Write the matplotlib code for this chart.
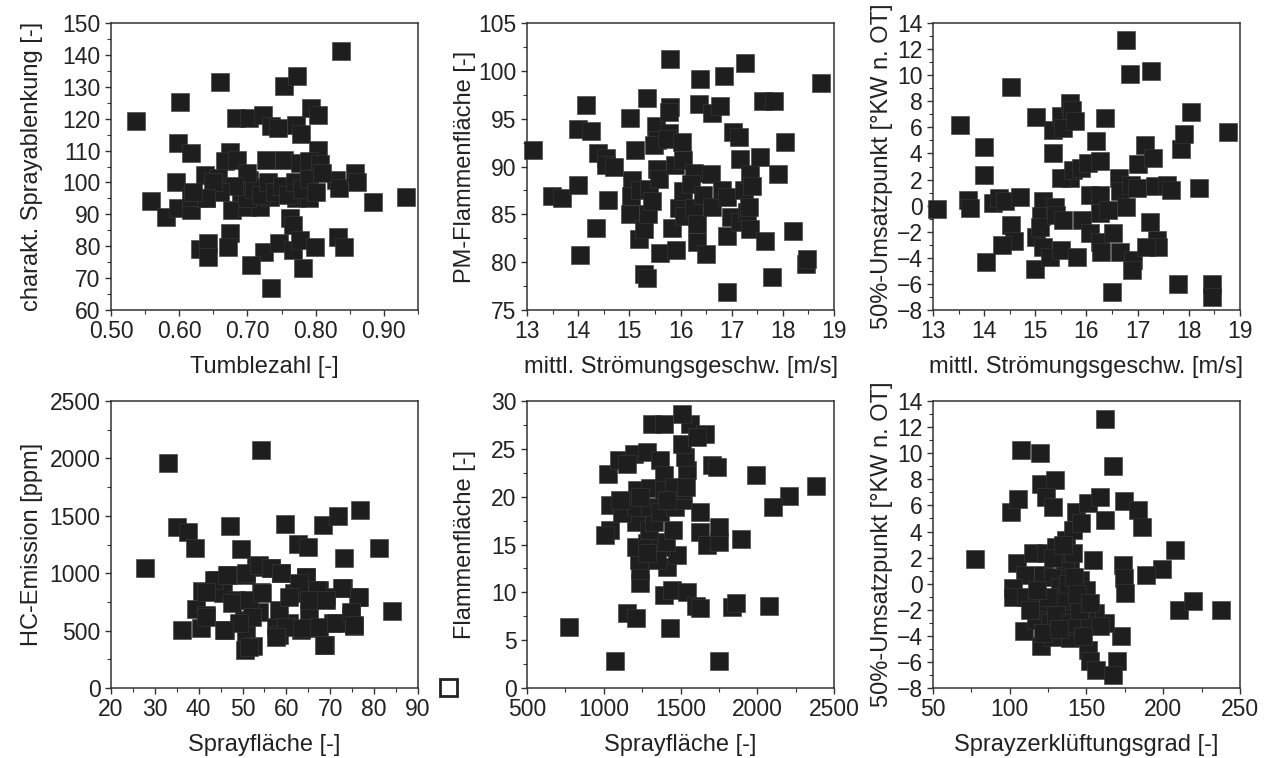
import matplotlib.pyplot as plt
from matplotlib.patches import Rectangle
from matplotlib.ticker import MultipleLocator, FormatStrFormatter

plt.rcParams['font.family'] = ['Liberation Sans', 'DejaVu Sans']

# --- panel 1: Tumblezahl vs charakt. Sprayablenkung
tumble = [0.537, 0.601, 0.660, 0.753, 0.772, 0.837, 0.599, 0.618, 0.684, 0.703,
          0.723, 0.734, 0.745, 0.771, 0.778, 0.793, 0.803, 0.803, 0.674, 0.667,
          0.685, 0.728, 0.753, 0.777, 0.791, 0.806, 0.638, 0.596, 0.657, 0.703,
          0.723, 0.742, 0.830, 0.835, 0.857, 0.860, 0.559, 0.581, 0.599, 0.618,
          0.618, 0.640, 0.677, 0.699, 0.718, 0.733, 0.771, 0.791, 0.884, 0.933,
          0.762, 0.767, 0.674, 0.631, 0.642, 0.642, 0.671, 0.725, 0.747, 0.767,
          0.777, 0.799, 0.833, 0.841, 0.706, 0.781, 0.734,
          0.69, 0.70, 0.71, 0.72, 0.73, 0.74, 0.75, 0.76, 0.77, 0.78, 0.79, 0.80,
          0.81, 0.70, 0.68, 0.66, 0.65, 0.64, 0.62]
spray_ablenk = [119.3, 125.2, 131.4, 130.3, 133.3, 141.3, 112.3, 109.2, 120.2, 120.2,
                121.2, 117.6, 117.2, 118.1, 115.2, 123.3, 121.2, 110.2, 109.7, 106.6,
                107.1, 107.1, 107.1, 106.0, 106.6, 105.7, 102.4, 100.3, 101.3, 100.8,
                98.7, 98.7, 100.8, 98.2, 102.9, 100.3, 94.2, 89.3, 92.1, 91.4,
                95.6, 95.1, 91.4, 92.4, 92.4, 95.6, 95.1, 95.1, 94.0, 95.3,
                88.8, 86.7, 84.1, 79.1, 80.9, 76.7, 79.9, 78.1, 80.9, 78.8,
                82.0, 79.9, 83.0, 79.9, 74.1, 73.1, 67.0,
                97, 95, 98, 96, 100, 97, 99, 96, 100, 98, 101, 97,
                103, 103, 99, 97, 100, 95, 97]

# --- panel 2: mittl. Stroemungsgeschw. vs PM-Flammenflaeche
v_pm = [13.11, 13.49, 13.68, 13.99, 13.99, 14.16, 14.25, 14.04, 14.34, 14.39,
        14.55, 14.55, 14.70, 14.59, 15.02, 15.01, 15.05, 15.04, 15.12, 15.20,
        15.19, 15.28, 15.28, 15.35, 15.34, 15.37, 15.38, 15.45, 15.52, 15.54,
        15.49, 15.54, 15.57, 15.59, 15.79, 15.79, 15.77, 15.77, 15.74, 15.89,
        15.92, 15.84, 15.97, 16.03, 16.05, 16.05, 16.07, 16.26, 16.20, 16.26,
        16.33, 16.33, 16.38, 16.37, 16.44, 16.49, 16.60, 16.61, 16.61, 16.77,
        16.85, 16.82, 16.91, 16.90, 16.90, 16.98, 17.02, 17.15, 17.16, 17.16,
        17.24, 17.27, 17.30, 17.34, 17.36, 17.40, 17.36, 17.55, 17.61, 17.66,
        17.83, 17.79, 17.90, 18.04, 18.19, 18.45, 18.47, 18.75]
pm_flamme = [91.7, 86.9, 86.7, 88.1, 93.9, 96.4, 93.7, 80.7, 83.6, 91.4,
             90.9, 90.2, 90.0, 86.5, 95.1, 85.0, 88.6, 86.9, 91.7, 87.5,
             82.4, 83.5, 78.8, 78.3, 97.2, 85.0, 87.7, 86.4, 94.2, 92.8,
             92.2, 89.7, 88.7, 81.0, 101.2, 96.2, 95.7, 93.5, 92.9, 90.2,
             81.3, 83.6, 85.7, 92.6, 90.7, 87.4, 84.8, 89.3, 88.2, 85.7,
             84.0, 82.1, 99.2, 96.5, 87.0, 80.9, 89.2, 95.6, 85.8, 96.3,
             99.5, 87.5, 86.8, 82.7, 76.9, 84.7, 93.6, 93.1, 90.8, 84.2,
             87.5, 100.8, 85.2, 85.8, 89.2, 88.0, 83.5, 91.0, 96.9, 82.2,
             96.8, 78.4, 89.2, 92.6, 83.3, 79.8, 80.3, 98.7]

# --- panel 3: mittl. Stroemungsgeschw. vs 50%-Umsatzpunkt
v_mfb = [13.08, 13.52, 13.68, 13.72, 14.00, 14.00, 14.03, 14.17, 14.29, 14.40,
         14.52, 14.53, 14.59, 14.34, 14.70, 15.01, 14.99, 15.15, 15.12, 15.02,
         15.09, 15.15, 15.28, 15.35, 15.35, 15.38, 15.41, 15.51, 15.54, 15.54,
         15.51, 15.67, 15.71, 15.77, 15.67, 15.51, 15.81, 15.74, 15.90, 16.03,
         16.26, 16.19, 16.07, 16.26, 15.92, 16.07, 16.26, 16.29, 16.26, 16.43,
         16.36, 16.49, 16.52, 16.65, 16.63, 16.65, 16.78, 16.78, 16.86, 16.88,
         16.99, 16.91, 16.90, 17.00, 17.15, 17.24, 17.27, 17.31, 17.37, 17.40,
         17.17, 17.34, 17.57, 17.66, 17.79, 17.84, 17.91, 18.04, 18.19, 18.45,
         18.46, 18.76]
mfb_v = [-0.27, 6.15, 0.44, -0.19, 4.49, 2.36, -4.29, 0.19, 0.57, 0.32,
         9.09, -1.47, -2.70, -3.01, 0.70, 6.79, -4.87, 0.32, -0.83, -2.37,
         -1.60, -3.14, -3.90, 4.03, 5.82, -0.07, -0.71, 6.84, -1.09, 5.94,
         -3.39, 7.86, 7.35, 6.46, 2.11, 2.11, -3.90, 2.75, 2.88, 3.26,
         3.39, 4.92, 0.83, 0.83, -1.09, -2.11, -2.75, -3.52, -0.58, -0.32,
         6.71, -6.59, -2.11, -3.52, 2.11, 1.09, -0.07, 12.67, 10.11, 1.60,
         1.34, -4.16, -4.93, 3.21, 4.67, -1.22, 10.29, 3.64, -2.62, -3.14,
         -3.14, 1.47, 1.60, 1.21, -6.00, 4.33, 5.48, 7.17, 1.34, -6.00,
         -6.97, 5.64]

# --- panel 4: Sprayflaeche vs HC-Emission
spray_hc = [27.8, 32.9, 35.1, 37.5, 39.2, 36.3, 40.8, 39.5, 41.7, 40.5,
            45.9, 47.1, 49.7, 44.1, 46.6, 45.5, 48.5, 50.8, 50.4, 50.8,
            50.5, 52.3, 54.1, 53.1, 54.2, 53.8, 56.5, 58.8, 57.6, 58.3,
            59.7, 60.7, 61.8, 62.6, 64.5, 64.9, 65.2, 63.3, 66.0, 67.5,
            68.3, 69.0, 68.7, 71.7, 73.2, 72.9, 70.6, 74.8, 75.5, 76.7,
            76.3, 81.2, 84.1,
            43.5, 46.5, 50.8, 53.8, 56.5, 58.8, 64.5, 62.9, 67.0, 72.7,
            76.6, 41.7, 47.6, 51.5, 54.5, 52.2, 49.2, 58.4, 60.6, 65.2,
            69.1, 60.0, 57.7, 63.6, 67.5, 71.4, 74.8, 75.5, 45.8, 51.5,
            68.6, 41.7]
hc = [1043, 1964, 1399, 1356, 1223, 507, 846, 687, 637, 521,
      507, 1414, 1211, 942, 985, 826, 768, 985, 594, 469,
      333, 362, 2077, 1057, 840, 666, 1043, 1005, 536, 464,
      1425, 565, 826, 1252, 971, 1231, 652, 507, 521, 855,
      1420, 797, 377, 1498, 1130, 869, 565, 629, 542, 1550,
      797, 1223, 675,
      941, 984, 1002, 1071, 1045, 1002, 967, 915, 854, 871,
      793, 836, 740, 767, 827, 618, 566, 679, 793, 767,
      767, 531, 444, 523, 531, 566, 662, 549, 505, 357,
      375, 618]

# --- panel 5: Sprayflaeche vs Flammenflaeche
spray_fl = [776, 1076, 1750, 1430, 1152, 1207, 1391, 1446, 1543, 1598,
            1626, 1837, 1863, 2076, 1239, 1239, 1228, 1413, 1478, 1207,
            1283, 1369, 1407, 1450, 1043, 1011, 1213, 1293, 1326, 1043,
            1119, 1207, 1304, 1369, 1467, 1515, 1626, 1624, 1674, 1750,
            1750, 1891, 1026, 1098, 1196, 1283, 1369, 1217, 1304, 1391,
            1391, 1511, 1543, 1532, 1511, 1565, 1511, 1657, 1609, 1315,
            1391, 1707, 1739, 1989, 2207, 2102, 2381, 1457, 1533, 1413,
            1239, 1109, 1348, 1283, 1152]
flamme = [6.33, 2.85, 2.85, 6.26, 7.82, 7.30, 9.73, 10.25, 10.08, 8.59,
          8.34, 8.45, 8.86, 8.62, 11.02, 12.34, 13.38, 12.69, 13.90, 14.77,
          15.12, 14.77, 15.29, 16.51, 16.51, 15.99, 17.38, 16.51, 17.38, 19.12,
          18.25, 18.94, 18.94, 18.42, 18.94, 19.64, 18.42, 16.34, 14.95, 15.29,
          16.86, 15.54, 22.42, 23.81, 24.50, 24.68, 23.81, 20.68, 20.86, 22.25,
          20.68, 20.68, 22.77, 24.16, 25.55, 27.63, 28.68, 26.59, 26.24, 27.56,
          27.63, 23.29, 23.12, 22.31, 20.06, 18.94, 21.10, 21.03, 21.03, 19.64,
          19.99, 19.64, 13.38, 14.08, 23.46]

# --- panel 6: Sprayzerklueftungsgrad vs 50%-Umsatzpunkt
zerkl = [77.2, 107.6, 119.6, 162.4, 167.4, 101.1, 105.4, 120.7, 129.3, 123.9,
         128.3, 143.5, 151.1, 158.7, 162.4, 174.3, 183.7, 185.9, 207.6, 198.9,
         189.1, 173.9, 174.3, 175.0, 210.4, 219.6, 237.4, 154.3, 104.8, 109.8,
         115.2, 123.9, 102.2, 102.2, 109.1, 120.6, 128.3, 139.1, 151.1, 152.2,
         156.5, 169.6, 167.4, 172.8, 162.0, 155.4, 137.0, 141.3, 146.7, 130.4,
         121.7, 128.3, 139.1, 145.6, 150.0, 115.2, 121.7, 117.4, 126.1, 132.6,
         137.0, 141.3, 143.5, 150.0, 146.7, 132.6, 135.9, 121.7, 141.3, 130.4,
         110.9, 158.7,
         135.0, 140.0, 145.0, 138.0, 132.0, 148.0, 142.0, 125.0, 118.0, 128.0,
         135.0, 113.0, 144.0, 152.0]
mfb_z = [1.89, 10.23, 10.02, 12.65, 9.00, 5.51, 6.53, 7.63, 7.93, 6.66,
         5.89, 5.51, 6.15, 6.66, 4.87, 6.33, 5.64, 4.36, 2.58, 1.13,
         0.67, 1.43, 0.41, -0.73, -2.00, -1.29, -2.00, 1.82, 1.56, 0.67,
         2.33, 2.33, -0.35, -0.99, -3.59, -4.81, -4.05, -4.17, -5.07, -5.96,
         -6.60, -5.96, -6.98, -4.00, -3.03, -2.26, 3.34, 4.11, 4.62, 2.83,
         0.67, 0.54, 1.31, 0.28, -0.48, -1.75, -2.00, -2.77, -3.03, -1.24,
         -2.26, -1.24, -3.28, -2.77, -1.75, -0.22, 1.82, -3.79, 2.33, -2.39,
         -1.00, -3.28,
         -1.0, -3.0, -2.0, 0.0, -3.5, -4.0, 0.5, -1.0, -0.5, 2.0,
         3.0, -2.0, -0.8, -1.5]

panels = [
    (tumble, spray_ablenk, 'Tumblezahl [-]', 'charakt. Sprayablenkung [-]',
     (0.50, 0.95), (60, 150), 0.1, 0.05, 10, 5, '%.2f', -0.22),
    (v_pm, pm_flamme, 'mittl. Strömungsgeschw. [m/s]', 'PM-Flammenfläche [-]',
     (13, 19), (75, 105), 1, 0.5, 5, 2.5, '%d', -0.165),
    (v_mfb, mfb_v, 'mittl. Strömungsgeschw. [m/s]', '50%-Umsatzpunkt [°KW n. OT]',
     (13, 19), (-8, 14), 1, 0.5, 2, 1, '%d', -0.13),
    (spray_hc, hc, 'Sprayfläche [-]', 'HC-Emission [ppm]',
     (20, 90), (0, 2500), 10, 5, 500, 250, '%d', -0.22),
    (spray_fl, flamme, 'Sprayfläche [-]', 'Flammenfläche [-]',
     (500, 2500), (0, 30), 500, 250, 5, 2.5, '%d', -0.165),
    (zerkl, mfb_z, 'Sprayzerklüftungsgrad [-]', '50%-Umsatzpunkt [°KW n. OT]',
     (50, 250), (-8, 14), 50, 25, 2, 1, '%d', -0.13),
]

fig = plt.figure(figsize=(12.65, 7.58), dpi=100)
lefts = [0.0877, 0.4166, 0.7375]
bottoms = [0.591, 0.0923]
w, h = 0.2427, 0.3786
text_c = '#222222'
mark_c = '#1e1e1e'

for i, (xs, ys, xl, yl, xlim, ylim, xmaj, xmin, ymaj, ymin, xfmt, ylx) in enumerate(panels):
    ax = fig.add_axes([lefts[i % 3], bottoms[i // 3], w, h])
    ax.scatter(xs, ys, marker='s', s=180, color=mark_c, edgecolors='#3a3a3a',
               linewidths=0.4, zorder=3, clip_on=False)
    ax.set_xlim(*xlim); ax.set_ylim(*ylim)
    ax.xaxis.set_major_locator(MultipleLocator(xmaj))
    ax.xaxis.set_minor_locator(MultipleLocator(xmin))
    ax.yaxis.set_major_locator(MultipleLocator(ymaj))
    ax.yaxis.set_minor_locator(MultipleLocator(ymin))
    ax.xaxis.set_major_formatter(FormatStrFormatter(xfmt))
    ax.tick_params(which='major', direction='out', length=4.5, width=1,
                   labelsize=16.5, colors='#333333', labelcolor=text_c, pad=3)
    ax.tick_params(which='minor', direction='out', length=3, width=0.8, colors='#333333')
    for s in ax.spines.values():
        s.set_color('#333333'); s.set_linewidth(1.1)
    ax.set_xlabel(xl, fontsize=17, color=text_c, labelpad=9)
    ax.set_ylabel(yl, fontsize=17, color=text_c)
    ax.yaxis.set_label_coords(ylx, 0.5)

# stray open square near the lower-left panel
fig.add_artist(Rectangle((0.348, 0.0818), 0.0134, 0.0224, transform=fig.transFigure,
                         fill=False, edgecolor='#222222', linewidth=2))

plt.savefig('out.png', dpi=100, facecolor='white')
